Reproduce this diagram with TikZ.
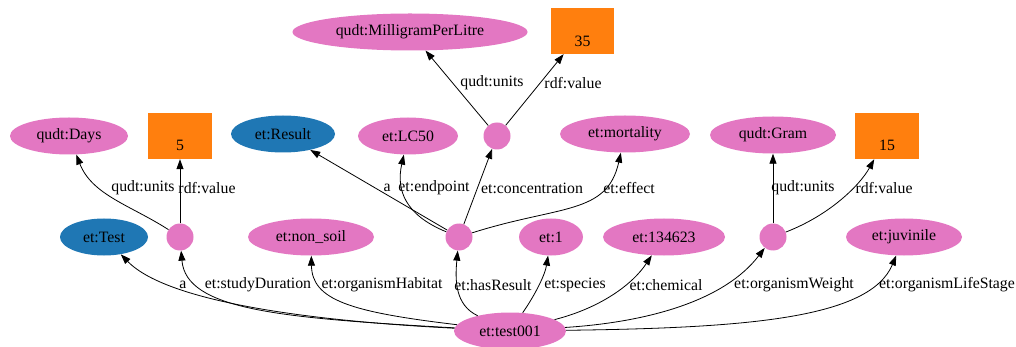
\documentclass[tikz,border=0pt]{standalone}
\usepackage{fontspec}
\setmainfont{Liberation Serif}
\usetikzlibrary{shapes.geometric,arrows.meta}
\definecolor{gpink}{HTML}{E377C2}
\definecolor{gblue}{HTML}{1F77B4}
\definecolor{gorange}{HTML}{FF7F0E}
\tikzset{
  ell/.style={ellipse, fill=gpink, draw=none, inner sep=0pt, minimum height=37pt, font=\fontsize{15.8}{17}\selectfont},
  bell/.style={ell, fill=gblue},
  blank/.style={circle, fill=gpink, draw=none, inner sep=0pt, minimum size=27pt},
  valbox/.style={rectangle, fill=gorange, draw=none, inner sep=0pt, minimum width=64pt, minimum height=46pt},
  lbl/.style={inner sep=0pt, font=\fontsize{15.8}{17}\selectfont},
  edge/.style={draw=black, line width=0.8pt, -{Triangle[length=10pt,width=7pt]}},
}
\begin{document}
\begin{tikzpicture}[x=1pt,y=-1pt]
\useasboundingbox (0,0) rectangle (1016,347);
% top row
\node[ell, minimum width=235pt] (mgl) at (410,32) {qudt:MilligramPerLitre};
\node[valbox, minimum width=63pt] (v35) at (582.5,31) {};
\node[lbl] (v35t) at (582.5,41) {35};
% second row
\node[ell, minimum width=118pt] (days) at (69,136) {qudt:Days};
\node[valbox] (v5) at (180,136) {};
\node[lbl] (v5t) at (180,145) {5};
\node[bell, minimum width=104pt] (result) at (283,134) {et:Result};
\node[ell, minimum width=100pt] (lc50) at (408,136) {et:LC50};
\node[blank] (conc) at (497,136) {};
\node[ell, minimum width=130pt] (mort) at (625,134) {et:mortality};
\node[ell, minimum width=126pt] (gram) at (773,135) {qudt:Gram};
\node[valbox] (v15) at (887,136) {};
\node[lbl] (v15t) at (887,145) {15};
% third row
\node[bell, minimum width=88pt] (test) at (104,237) {et:Test};
\node[blank] (dur) at (180,237) {};
\node[ell, minimum width=126pt] (nonsoil) at (311,237) {et:non\_soil};
\node[blank] (res) at (459,237) {};
\node[ell, minimum width=64pt] (one) at (551,237) {et:1};
\node[ell, minimum width=122pt] (chem) at (664,237) {et:134623};
\node[blank] (wt) at (773,237) {};
\node[ell, minimum width=116pt] (juv) at (904,237) {et:juvinile};
% bottom
\node[ell, minimum width=112pt] (t001) at (510,331) {et:test001};

% edges from test001
\draw[edge] (t001) .. controls (330,322) and (170,305) .. (test);
\draw[edge] (t001) .. controls (280,318) and (186,310) .. (dur);
\draw[edge] (t001) .. controls (350,312) and (312,300) .. (nonsoil);
\draw[edge] (t001) .. controls (455,305) and (455,280) .. (res);
\draw[edge] (t001) .. controls (535,295) and (545,275) .. (one);
\draw[edge] (t001) .. controls (600,308) and (632,285) .. (chem);
\draw[edge] (t001) .. controls (650,322) and (725,300) .. (wt);
\draw[edge] (t001) .. controls (750,328) and (870,318) .. (juv);
\node[lbl] (la) at (183,285) {a};
\node[lbl] (lsd) at (258,285) {et:studyDuration};
\node[lbl] (loh) at (382,285) {et:organismHabitat};
\node[lbl] (lhr) at (493,285) {et:hasResult};
\node[lbl] (lsp) at (575,285) {et:species};
\node[lbl] (lch) at (666,285) {et:chemical};
\node[lbl] (low) at (794,285) {et:organismWeight};
\node[lbl] (lls) at (947,285) {et:organismLifeStage};

% middle edges
\draw[edge] (dur) .. controls (130,205) and (92,195) .. (days);
\draw[edge] (dur) -- (v5);
\draw[edge] (res) -- (result);
\draw[edge] (res) .. controls (405,215) and (396,190) .. (lc50);
\draw[edge] (res) -- (conc);
\draw[edge] (res) .. controls (560,205) and (607,215) .. (mort);
\draw[edge] (wt) -- (gram);
\draw[edge] (wt) .. controls (830,215) and (860,185) .. (v15);
\node[lbl] (lu1) at (143,188) {qudt:units};
\node[lbl] (lv1) at (207,188) {rdf:value};
\node[lbl] (la2) at (387,188) {a};
\node[lbl] (lep) at (434,188) {et:endpoint};
\node[lbl] (lco) at (532,188) {et:concentration};
\node[lbl] (lef) at (629,188) {et:effect};
\node[lbl] (lu2) at (803,188) {qudt:units};
\node[lbl] (lv2) at (884,188) {rdf:value};

% top edges
\draw[edge] (conc) -- (mgl);
\draw[edge] (conc) -- (v35);
\node[lbl] (lu3) at (492,83) {qudt:units};
\node[lbl] (lv3) at (573,83) {rdf:value};
\end{tikzpicture}
\end{document}
